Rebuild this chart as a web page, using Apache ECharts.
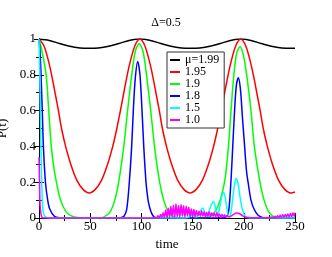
<!DOCTYPE html>
<html><head><meta charset="utf-8">
<script src="https://cdn.jsdelivr.net/npm/echarts@6/dist/echarts.min.js"></script>
<style>html,body{margin:0;padding:0;background:#fff}#c{width:332px;height:257px}</style>
</head><body><div id="c"></div>
<script>
var titleText = 'Δ=0.5';
var seriesNames = ['μ=1.99','1.95','1.9','1.8','1.5','1.0'];
var seriesColors = ['#000000','#ff0000','#00ff00','#0000ff','#00ffff','#ff00ff'];
var xTicks = [0,50,100,150,200,250];
var yTicks = [0,0.2,0.4,0.6,0.8,1];

var mu199 = [[0,1],[10,0.992],[20,0.975],[30,0.959],[40,0.95],[49,0.948],[58,0.95],[68,0.959],[78,0.975],[88,0.992],[98.5,1],
 [109,0.992],[119,0.975],[129,0.959],[139,0.95],[148,0.948],[157,0.95],[167,0.959],[177,0.975],[187,0.992],[197,1],
 [207,0.992],[217,0.975],[227,0.959],[237,0.95],[247,0.948],[250,0.949]];

var mu195 = [[0,1],[5,0.96],[10,0.86],[13,0.78],[16,0.69],[19,0.6],[22,0.5],[26,0.4],[31,0.3],[37,0.21],[43,0.16],[49,0.14],
 [55,0.16],[61,0.21],[67,0.3],[72,0.4],[76,0.5],[79.5,0.6],[82.5,0.69],[85.5,0.78],[88.5,0.86],[93.5,0.96],[98.5,1],
 [103.5,0.96],[108.5,0.86],[111.5,0.78],[114.5,0.69],[117.5,0.6],[120.5,0.5],[124.5,0.4],[129.5,0.3],[135.5,0.21],[141.5,0.16],[147.5,0.14],
 [153.5,0.16],[159.5,0.21],[165.5,0.3],[170.5,0.4],[174.5,0.5],[178,0.6],[181,0.69],[184,0.78],[187,0.86],[192,0.96],[197,1],
 [202,0.96],[207,0.86],[210,0.78],[213,0.69],[216,0.6],[219,0.5],[223,0.4],[228,0.3],[234,0.21],[240,0.16],[246,0.14],[250,0.145]];

var mu19 = [[0,1],[3,0.93],[7,0.8],[9.5,0.6],[12,0.4],[14.5,0.28],[17,0.2],[21,0.1],[27,0.03],[33,0.008],[40,0.001],[50,0],
 [58,0.001],[63,0.005],[69,0.03],[74,0.1],[77.8,0.2],[82.8,0.4],[86.5,0.6],[90.6,0.8],[94,0.93],[97.8,0.975],
 [101.6,0.93],[105,0.8],[109.1,0.6],[112.8,0.4],[117.8,0.2],[121.8,0.1],[126.8,0.03],[132.8,0.005],[140,0],[160,0],
 [166,0.005],[171,0.03],[175,0.07],[178.5,0.13],[182,0.23],[185,0.4],[187.5,0.6],[190.3,0.8],[193,0.92],[196.3,0.957],
 [199.6,0.91],[202.8,0.8],[207,0.6],[210.3,0.4],[215.8,0.2],[219.8,0.1],[224.8,0.03],[230.5,0.005],[238,0],[250,0]];

var mu18 = [[0,1],[1,0.93],[2,0.8],[3.2,0.6],[4.3,0.4],[6.3,0.2],[8.5,0.1],[10.5,0.05],[15,0.01],[20,0.001],[25,0],[75,0],
 [80,0.002],[83,0.01],[85.7,0.05],[88.2,0.2],[90.5,0.4],[92.1,0.6],[94,0.78],[96.4,0.875],[98.6,0.8],[100.6,0.6],[102.3,0.4],
 [104.5,0.2],[106.5,0.1],[108.5,0.05],[110.5,0.02],[113,0.003],[118,0],[178,0],[182,0.004],[184.5,0.02],[186,0.08],
 [187.8,0.24],[189.2,0.4],[191,0.6],[192.7,0.74],[194.7,0.784],[196.7,0.72],[198.7,0.56],[200.8,0.4],[202.7,0.26],
 [204.7,0.18],[207,0.1],[210,0.05],[214,0.015],[219,0.002],[224,0],[250,0]];

var mu15 = [[0,1],[0.8,0.8],[1.6,0.5],[2.4,0.25],[3.2,0.1],[4,0.04],[5,0.015],[7,0.004],[10,0],[140,0],[145,0.003],[148,0.01],
 [150,0.022],[152,0.008],[154,0.005],[157,0.035],[160,0.056],[162.5,0.02],[164,0.01],[166,0.04],[168,0.07],[170.5,0.092],
 [173,0.04],[174.5,0.015],[176.5,0.06],[178.5,0.12],[180.5,0.143],[182.5,0.09],[184.5,0.02],[186,0.005],[187.5,0.03],
 [189,0.1],[190.5,0.17],[192.5,0.222],[194.5,0.19],[196.5,0.11],[198.5,0.05],[200.5,0.018],[203,0.004],[206,0],[250,0]];

var mu10 = [[0,0.34],[0.5,0.2],[1,0.08],[2,0.02],[3,0.003],[5,0],[110,0],[113,0.003],
 [115,0.002],[116.25,0.012],[117.5,0.001],[118.75,0.02],[120,0.003],[121.25,0.03],[122.5,0.002],[123.75,0.045],
 [125,0.005],[126.25,0.055],[127.5,0.004],[128.75,0.065],[130,0.006],[131.25,0.07],[132.5,0.003],[133.75,0.078],
 [135,0.008],[136.25,0.07],[137.5,0.004],[138.75,0.075],[140,0.01],[141.25,0.068],[142.5,0.005],[143.75,0.065],
 [145,0.012],[146.25,0.06],[147.5,0.008],[148.75,0.05],[150,0.01],[151.25,0.048],[152.5,0.006],[153.75,0.042],
 [155,0.012],[156.25,0.038],[157.5,0.008],[158.75,0.04],[160,0.01],[161.25,0.035],[162.5,0.006],[163.75,0.032],
 [165,0.01],[166.25,0.035],[167.5,0.006],[168.75,0.03],[170,0.01],[171.25,0.028],[172.5,0.005],[173.75,0.03],
 [175,0.008],[176.25,0.022],[177.5,0.004],[178.75,0.02],[180,0.006],[181.25,0.018],[182.5,0.004],[183.75,0.012],
 [185,0.005],[187.5,0.01],[190,0.02],[193,0.028],[196,0.024],[199,0.012],[202,0.004],[206,0.002],[215,0.001],[225,0.002],
 [228,0.006],[229.25,0.001],[230.5,0.01],[231.75,0.002],[233,0.012],[234.25,0.003],[235.5,0.015],[236.75,0.004],
 [238,0.018],[239.25,0.005],[240.5,0.02],[241.75,0.006],[243,0.022],[244.25,0.006],[245.5,0.025],[246.75,0.008],
 [248,0.028],[249.25,0.01],[250,0.03]];

var allData = [mu199, mu195, mu19, mu18, mu15, mu10];
var font = 'Liberation Serif';

var chart = echarts.init(document.getElementById('c'), null, {renderer:'canvas'});
function axisCommon(show){
  return {
    axisLine:{show:true, lineStyle:{color:'#000', width:1}},
    axisTick:{show:true, inside:true, length:5, lineStyle:{color:'#000'}},
    minorTick:{show:true, splitNumber:2, length:3, lineStyle:{color:'#000'}},
    splitLine:{show:false},
    axisLabel:{show:show, color:'#000', fontFamily:font, fontSize:13}
  };
}
var x0 = Object.assign(axisCommon(true), {type:'value', min:xTicks[0], max:xTicks[xTicks.length-1], interval:50, position:'bottom',
  name:'time', nameLocation:'middle', nameGap:14, nameTextStyle:{color:'#000', fontFamily:font, fontSize:13}});
x0.axisLabel.margin = 2;
var x1 = Object.assign(axisCommon(false), {type:'value', min:0, max:250, interval:50, position:'top'});
var y0 = Object.assign(axisCommon(true), {type:'value', min:yTicks[0], max:yTicks[yTicks.length-1], interval:0.2, position:'left',
  name:'P(t)', nameLocation:'middle', nameGap:21, nameTextStyle:{color:'#000', fontFamily:font, fontSize:13}});
y0.axisLabel.margin = 3;
var y1 = Object.assign(axisCommon(false), {type:'value', min:0, max:1, interval:0.2, position:'right'});

chart.setOption({
  animation:false,
  backgroundColor:'#fff',
  title:{text:titleText, left:'center', top:12, textStyle:{fontFamily:font, fontSize:12, fontWeight:'normal', color:'#000'}},
  grid:{left:39, right:37, top:39, bottom:39, containLabel:false, outerBoundsMode:'none'},
  xAxis:[x0, x1],
  yAxis:[y0, y1],
  legend:{
    orient:'vertical', left:167, top:52, padding:[2,5,2,3], itemGap:0,
    itemWidth:10, itemHeight:2, icon:'rect',
    backgroundColor:'#fff', borderColor:'#333', borderWidth:1,
    textStyle:{fontFamily:font, fontSize:12, color:'#000', lineHeight:11.7},
    data:seriesNames, z:10
  },
  series: seriesNames.map(function(n,i){
    return {name:n, type:'line', data:allData[i], showSymbol:false, smooth:0.3,
      lineStyle:{color:seriesColors[i], width:1.5}, itemStyle:{color:seriesColors[i]}, clip:true};
  })
});
</script></body></html>
